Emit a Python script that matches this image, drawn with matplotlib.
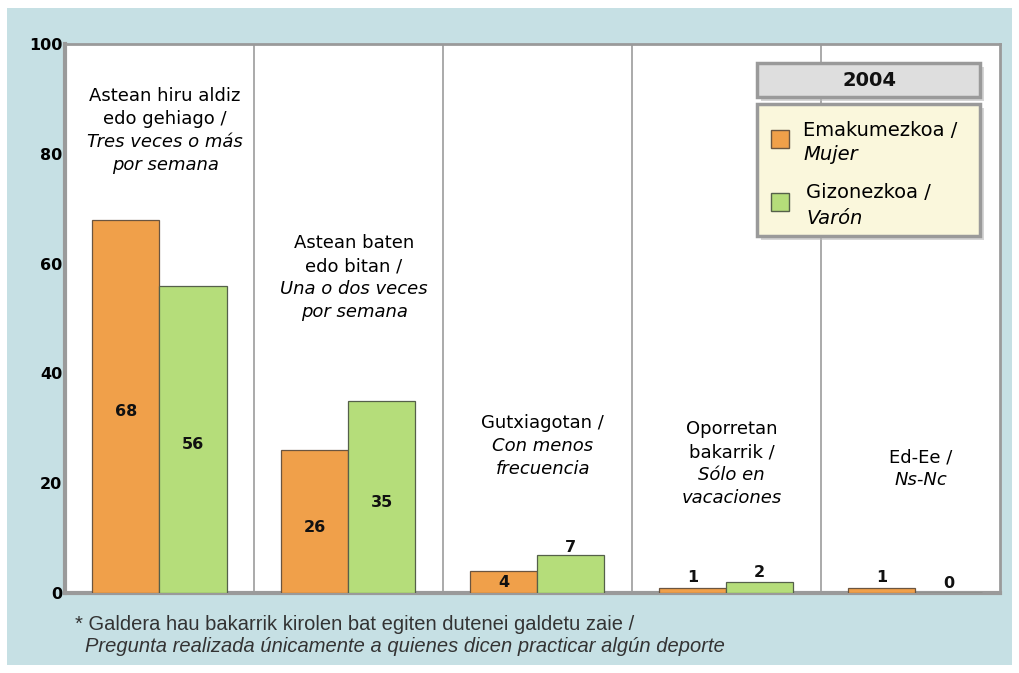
import numpy as np
import matplotlib
matplotlib.use("Agg")
import matplotlib.pyplot as plt
from matplotlib.patches import Rectangle

plt.rcParams["font.family"] = ["DejaVu Sans"]

panel_color = "#C6E0E4"
orange = "#F0A04A"
green = "#B5DD7A"
frame_gray = "#9A9A9A"

basque_lines = [["Astean hiru aldiz", "edo gehiago /"],
                ["Astean baten", "edo bitan /"],
                ["Gutxiagotan /"],
                ["Oporretan", "bakarrik /"],
                ["Ed-Ee /"]]
spanish_lines = [["Tres veces o más", "por semana"],
                 ["Una o dos veces", "por semana"],
                 ["Con menos", "frecuencia"],
                 ["Sólo en", "vacaciones"],
                 ["Ns-Nc"]]
label_top = [92.2, 65.4, 32.6, 31.5, 26.4]

women = [68, 26, 4, 1, 1]
men = [56, 35, 7, 2, 0]
y_ticks = [0, 20, 40, 60, 80, 100]

W, H = 1019, 673
fig = plt.figure(figsize=(W / 100, H / 100), dpi=100)
fig.patch.set_facecolor("white")


def fx(px):
    return px / W


def fy(py):
    return 1 - py / H


# light blue panel behind everything
fig.patches.append(Rectangle((fx(7), fy(665)), fx(1012) - fx(7), fy(8) - fy(665),
                             transform=fig.transFigure, facecolor=panel_color,
                             edgecolor="none", zorder=-5))

ax = fig.add_axes([fx(65), fy(593), fx(1000) - fx(65), fy(44) - fy(593)])
ax.set_zorder(1)
ax.set_facecolor("white")
ax.set_ylim(0, 100)
ax.set_xlim(-0.5, 4.45)

x = np.arange(len(women))
w = 0.355
ax.bar(x - w / 2, women, width=w, color=orange, edgecolor="#6b5540", linewidth=0.9, zorder=3)
ax.bar(x + w / 2, men, width=w, color=green, edgecolor="#55604a", linewidth=0.9, zorder=3)

for i in range(len(x) - 1):
    ax.axvline(i + 0.5, color="#AAAAAA", linewidth=1.4, zorder=1)

for xs, vals in ((x - w / 2, women), (x + w / 2, men)):
    for xi, v in zip(xs, vals):
        if v >= 10:
            yv = v / 2 - 1
        elif v >= 5:
            yv = v + 1.2
        elif v >= 3:
            yv = v / 2
        else:
            yv = v + 1.8
        ax.text(xi, yv, str(v), ha="center", va="center", fontsize=11.5,
                fontweight="bold", color="#111111", zorder=4)

step = 4.2
for i in range(len(x)):
    y = label_top[i]
    for line in basque_lines[i]:
        ax.text(x[i] + 0.03, y, line, ha="center", va="top", fontsize=13, color="black")
        y -= step
    for line in spanish_lines[i]:
        ax.text(x[i] + 0.03, y, line, ha="center", va="top", fontsize=13,
                style="italic", color="black")
        y -= step

ax.set_xticks([])
ax.set_yticks(y_ticks)
ax.set_yticklabels([str(t) for t in y_ticks], fontsize=11.5, fontweight="bold")
ax.tick_params(axis="y", length=0, pad=2)
for side in ["left", "bottom", "top", "right"]:
    ax.spines[side].set_color(frame_gray)
ax.spines["left"].set_linewidth(3)
ax.spines["bottom"].set_linewidth(3)
ax.spines["top"].set_linewidth(2)
ax.spines["right"].set_linewidth(2)


# legend title box and legend box with soft shadows
def boxed(x0, y0, x1, y1, face):
    fig.add_artist(Rectangle((fx(x0 + 4), fy(y1 + 4)), fx(x1) - fx(x0), fy(y0) - fy(y1),
                             transform=fig.transFigure, facecolor="#BBBBBB",
                             edgecolor="none", alpha=0.6, zorder=5))
    fig.add_artist(Rectangle((fx(x0), fy(y1)), fx(x1) - fx(x0), fy(y0) - fy(y1),
                             transform=fig.transFigure, facecolor=face,
                             edgecolor="#9A9A9A", linewidth=2.5, zorder=6))


boxed(757, 63, 980, 97, "#DEDEDE")
boxed(757, 104, 980, 236, "#FAF7DC")
fig.text(fx(869), fy(80), "2004", ha="center", va="center", fontsize=14,
         fontweight="bold", color="#111111", zorder=7)

legend_items = [(orange, "#6b5540", "Emakumezkoa /", "Mujer", 139, 803),
                (green, "#55604a", "Gizonezkoa /", "Varón", 202, 806)]
for face, edge, eu, es, cy, tx in legend_items:
    fig.add_artist(Rectangle((fx(771), fy(cy + 9)), fx(18), fy(0) - fy(18),
                             transform=fig.transFigure, facecolor=face,
                             edgecolor=edge, linewidth=1, zorder=7))
    fig.text(fx(tx), fy(cy - 9), eu, ha="left", va="center", fontsize=14,
             color="black", zorder=8)
    fig.text(fx(tx), fy(cy + 16), es, ha="left", va="center", fontsize=14,
             style="italic", color="black", zorder=8)

foot_font = ["Liberation Sans", "DejaVu Sans"]
fig.text(fx(75), fy(625), "* Galdera hau bakarrik kirolen bat egiten dutenei galdetu zaie /",
         ha="left", va="center", fontsize=14.5, color="#333333", family=foot_font)
fig.text(fx(85), fy(646), "Pregunta realizada únicamente a quienes dicen practicar algún deporte",
         ha="left", va="center", fontsize=14.5, style="italic", color="#333333",
         family=foot_font)

fig.savefig("out.png", dpi=100, facecolor=fig.get_facecolor())
